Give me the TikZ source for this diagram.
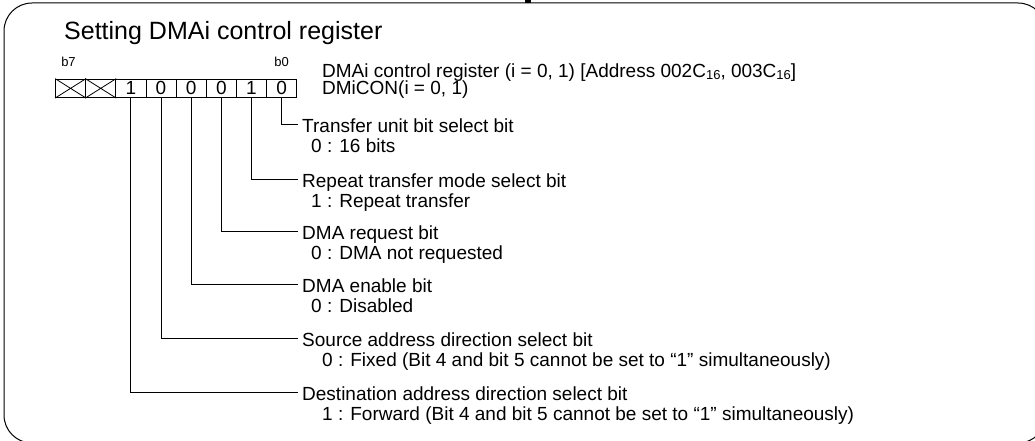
\documentclass[tikz,border=0pt]{standalone}
\usepackage{fontspec}
\setmainfont{Liberation Sans}
\newcommand{\hexsub}{\raisebox{-1.5pt}{\fontsize{13}{13}\selectfont 16}}
\begin{document}
\begin{tikzpicture}[x=1pt,y=-1pt,
  cellbox/.style={draw, line width=0.8pt, minimum width=30.15pt, minimum height=18.7pt, inner sep=0pt, font=\fontsize{19}{19}\selectfont},
  lead/.style={line width=0.8pt},
  desc/.style={anchor=west, inner xsep=4pt, inner ysep=0pt, text height=16pt, text depth=0pt, font=\fontsize{19}{19}\selectfont},
  subline/.style={anchor=base west, inner sep=0pt, font=\fontsize{19}{19}\selectfont},
  bitlbl/.style={anchor=base, inner sep=0pt, font=\fontsize{13}{13}\selectfont}]
\useasboundingbox (0,0) rectangle (1035,441);
\clip (0,0) rectangle (1035,441);
\draw[line width=1pt, rounded corners=28pt] (4,3) rectangle (1046,443);
\fill (525,0) rectangle (531,3);
\node[anchor=base west, inner sep=0pt, font=\fontsize{25}{25}\selectfont] (title) at (64,40) {Setting DMAi control register};
\foreach \i/\v in {7/,6/,5/1,4/0,3/0,2/0,1/1,0/0} {
  \node[cellbox] (c\i) at ({55.5+30.15*(7-\i+0.5)}, 88.35) {\v};
}
\draw[line width=0.8pt] (c7.north west) -- (c7.south east) (c7.south west) -- (c7.north east);
\draw[line width=0.8pt] (c6.north west) -- (c6.south east) (c6.south west) -- (c6.north east);
\node[bitlbl] (b7) at (68.5,67) {b7};
\node[bitlbl] (b0) at (281.5,67) {b0};
\node[subline] (reg1) at (322,78) {DMAi control register (i = 0, 1) [Address 002C\hexsub, 003C\hexsub]};
\node[subline] (reg2) at (322,95) {DMiCON(i = 0, 1)};
% descriptions
\node[desc] (d0) at (298,124.5) {Transfer unit bit select bit};
\node[subline] (e0) at (311,152.5) {0 : 16 bits};
\node[desc] (d1) at (298,179) {Repeat transfer mode select bit};
\node[subline] (e1) at (311,207) {1 : Repeat transfer};
\node[desc] (d2) at (298,231) {DMA request bit};
\node[subline] (e2) at (311,259) {0 : DMA not requested};
\node[desc] (d3) at (298,284.5) {DMA enable bit};
\node[subline] (e3) at (311,312.5) {0 : Disabled};
\node[desc] (d4) at (298,338) {Source address direction select bit};
\node[subline] (e4) at (322,366) {0 : Fixed (Bit 4 and bit 5 cannot be set to “1” simultaneously)};
\node[desc] (d5) at (298,392.5) {Destination address direction select bit};
\node[subline] (e5) at (322,420.5) {1 : Forward (Bit 4 and bit 5 cannot be set to “1” simultaneously)};
\foreach \k in {0,...,5} {
  \draw[lead] (c\k.south) |- (d\k.west);
}
\end{tikzpicture}
\end{document}
